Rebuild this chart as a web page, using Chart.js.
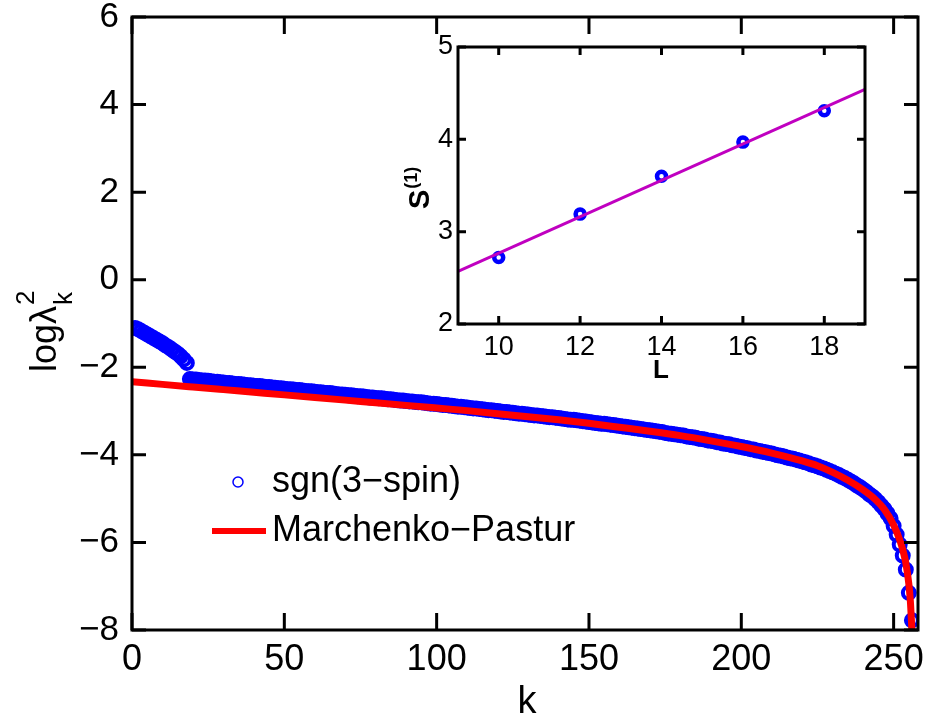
<!DOCTYPE html>
<html>
<head>
<meta charset="utf-8">
<script src="https://cdn.jsdelivr.net/npm/chart.js@4.4.0/dist/chart.umd.min.js"></script>
<style>
  html, body { margin: 0; padding: 0; background: #fff; }
  #wrap { position: relative; width: 930px; height: 721px; }
  #wrap canvas { position: absolute; left: 0; top: 0; width: 930px; height: 721px; }
</style>
</head>
<body>
<div id="wrap">
  <canvas id="main" width="930" height="721"></canvas>
  <canvas id="inset" width="930" height="721"></canvas>
</div>
<script>
// main panel: log of squared singular values, k = 1..256
var signSpectrum = [
  -1.10, -1.13, -1.17, -1.21, -1.25, -1.29, -1.33, -1.37, -1.41, -1.45,
  -1.50, -1.54, -1.59, -1.64, -1.69, -1.75, -1.82, -1.90,
  -2.27, -2.28, -2.28, -2.29, -2.30, -2.30, -2.31, -2.32, -2.33, -2.33, -2.34,
  -2.35, -2.36, -2.36, -2.37, -2.38, -2.38, -2.39, -2.40, -2.41, -2.41,
  -2.42, -2.43, -2.43, -2.44, -2.45, -2.45, -2.46, -2.47, -2.48, -2.48,
  -2.49, -2.50, -2.50, -2.51, -2.52, -2.52, -2.53, -2.54, -2.55, -2.55,
  -2.56, -2.57, -2.57, -2.58, -2.59, -2.59, -2.60, -2.61, -2.62, -2.62,
  -2.63, -2.64, -2.64, -2.65, -2.66, -2.66, -2.67, -2.68, -2.69, -2.69,
  -2.70, -2.71, -2.71, -2.72, -2.73, -2.73, -2.74, -2.75, -2.76, -2.76,
  -2.77, -2.78, -2.78, -2.79, -2.80, -2.80, -2.81, -2.82, -2.83, -2.83,
  -2.84, -2.85, -2.86, -2.86, -2.87, -2.88, -2.89, -2.90, -2.90, -2.91,
  -2.92, -2.93, -2.94, -2.94, -2.95, -2.96, -2.97, -2.98, -2.98, -2.99,
  -3.00, -3.01, -3.02, -3.02, -3.03, -3.04, -3.05, -3.06, -3.06, -3.07,
  -3.08, -3.09, -3.10, -3.10, -3.11, -3.12, -3.13, -3.14, -3.14, -3.15,
  -3.16, -3.17, -3.18, -3.19, -3.20, -3.20, -3.21, -3.22, -3.23, -3.24,
  -3.25, -3.26, -3.27, -3.28, -3.29, -3.29, -3.30, -3.31, -3.32, -3.33,
  -3.34, -3.35, -3.36, -3.37, -3.38, -3.39, -3.40, -3.41, -3.42, -3.43,
  -3.44, -3.45, -3.46, -3.47, -3.48, -3.50, -3.51, -3.52, -3.53, -3.54,
  -3.55, -3.56, -3.58, -3.59, -3.60, -3.61, -3.63, -3.64, -3.65, -3.67,
  -3.68, -3.69, -3.71, -3.72, -3.74, -3.75, -3.76, -3.78, -3.79, -3.81,
  -3.82, -3.84, -3.85, -3.87, -3.88, -3.90, -3.91, -3.93, -3.94, -3.96,
  -3.97, -3.99, -4.01, -4.02, -4.04, -4.06, -4.08, -4.09, -4.11, -4.13,
  -4.15, -4.17, -4.19, -4.22, -4.24, -4.26, -4.29, -4.31, -4.34, -4.37,
  -4.40, -4.43, -4.46, -4.50, -4.53, -4.57, -4.61, -4.65, -4.70, -4.74,
  -4.79, -4.84, -4.90, -4.95, -5.01, -5.08, -5.16, -5.24, -5.34, -5.45,
  -5.62, -5.82, -6.05, -6.30, -6.62, -7.15, -7.78
];
var mpK = [0, 10, 20, 30, 40, 50, 60, 70, 80, 90, 100, 110, 120, 130, 140, 150, 160, 170, 180, 190,
  200, 210, 220, 225, 230, 235, 240, 244, 247, 250, 252, 253, 254, 255, 255.5, 256];
var mpLog = [-2.33, -2.39, -2.45, -2.51, -2.57, -2.63, -2.69, -2.75, -2.81, -2.87, -2.93, -2.99, -3.06, -3.13,
  -3.20, -3.28, -3.37, -3.46, -3.56, -3.68, -3.81, -3.96, -4.14, -4.25, -4.40, -4.58, -4.80, -5.02, -5.25,
  -5.60, -5.94, -6.17, -6.47, -6.95, -7.35, -8.00];
var kTicks = [0, 50, 100, 150, 200, 250];
var logTicks = [-8, -6, -4, -2, 0, 2, 4, 6];

// inset: entropy vs system size
var sizeL = [10, 12, 14, 16, 18];
var entropyS = [2.72, 3.19, 3.60, 3.97, 4.31];
var fitL = [9, 19];
var fitS = [2.57, 4.54];
var lTicks = [10, 12, 14, 16, 18];
var sTicks = [2, 3, 4, 5];

var BLUE = '#0000ff';
var RED = '#ff0000';
var SANS = '"Liberation Sans", Arial, sans-serif';

function minus(v) {
  return v < 0 ? '\u2212' + Math.abs(v) : String(v);
}
function useTicks(list) {
  return function(scale) {
    scale.ticks = list.map(function(v) { return { value: v }; });
  };
}
function fixSize(w, h) {
  return function(scale) {
    if (w) scale.width = w;
    if (h) scale.height = h;
    scale.paddingTop = 0; scale.paddingBottom = 0;
    scale.paddingLeft = 0; scale.paddingRight = 0;
  };
}

// box round the axes with inward ticks on all four sides
function boxTicks(id, xLen, yLen, lw) {
  return {
    id: id,
    afterDatasetsDraw: function(chart) {
      var ctx = chart.ctx, a = chart.chartArea;
      var xs = chart.scales.x, ys = chart.scales.y;
      ctx.save();
      ctx.strokeStyle = '#000';
      ctx.lineWidth = lw;
      ctx.beginPath();
      xs.ticks.forEach(function(t) {
        var px = xs.getPixelForValue(t.value);
        ctx.moveTo(px, a.bottom); ctx.lineTo(px, a.bottom - xLen);
        ctx.moveTo(px, a.top); ctx.lineTo(px, a.top + xLen);
      });
      ys.ticks.forEach(function(t) {
        var py = ys.getPixelForValue(t.value);
        ctx.moveTo(a.left, py); ctx.lineTo(a.left + yLen, py);
        ctx.moveTo(a.right, py); ctx.lineTo(a.right - yLen, py);
      });
      ctx.stroke();
      ctx.strokeRect(a.left, a.top, a.right - a.left, a.bottom - a.top);
      ctx.restore();
    }
  };
}

var mainText = {
  id: 'mainText',
  afterDraw: function(chart) {
    var ctx = chart.ctx;
    ctx.save();
    ctx.fillStyle = '#000';
    // y title: log lambda_k^2
    ctx.translate(56, 372);
    ctx.rotate(-Math.PI / 2);
    ctx.textBaseline = 'alphabetic';
    ctx.font = '36px ' + SANS;
    var base = 'log\u03bb';
    ctx.fillText(base, 0, 0);
    var w = ctx.measureText(base).width;
    ctx.font = '26px ' + SANS;
    ctx.fillText('k', w + 1, 16);
    ctx.fillText('2', w + 1, -22);
    ctx.restore();

    ctx.save();
    ctx.fillStyle = '#000';
    ctx.font = '38px ' + SANS;
    ctx.textAlign = 'center';
    ctx.textBaseline = 'alphabetic';
    ctx.fillText('k', 527, 713);

    // legend
    ctx.textAlign = 'left';
    ctx.textBaseline = 'middle';
    ctx.font = '36px ' + SANS;
    ctx.strokeStyle = BLUE;
    ctx.lineWidth = 1.5;
    ctx.beginPath();
    ctx.arc(238, 482, 5, 0, Math.PI * 2);
    ctx.stroke();
    ctx.fillText('sgn(3\u2212spin)', 272, 482);
    ctx.strokeStyle = RED;
    ctx.lineWidth = 6;
    ctx.beginPath();
    ctx.moveTo(212, 531);
    ctx.lineTo(266, 531);
    ctx.stroke();
    ctx.fillText('Marchenko\u2212Pastur', 272, 531);
    ctx.restore();
  }
};

var insetText = {
  id: 'insetText',
  afterDraw: function(chart) {
    var ctx = chart.ctx;
    ctx.save();
    ctx.fillStyle = '#000';
    ctx.font = 'bold 26px ' + SANS;
    ctx.textAlign = 'center';
    ctx.textBaseline = 'alphabetic';
    ctx.fillText('L', 661, 378);
    ctx.translate(429, 209);
    ctx.rotate(-Math.PI / 2);
    ctx.textAlign = 'left';
    ctx.font = 'bold 29px ' + SANS;
    ctx.fillText('S', 0, 0);
    var w = ctx.measureText('S').width;
    ctx.font = 'bold 18px ' + SANS;
    ctx.fillText('(1)', w + 1, -12);
    ctx.restore();
  }
};

var mainData = signSpectrum.map(function(v, i) { return { x: i + 1, y: v }; });
var mpData = mpK.map(function(k, i) { return { x: k, y: mpLog[i] }; });

new Chart(document.getElementById('main').getContext('2d'), {
  type: 'scatter',
  data: {
    datasets: [
      {
        label: 'Marchenko\u2212Pastur',
        type: 'line',
        data: mpData,
        borderColor: RED,
        borderWidth: 7,
        pointRadius: 0,
        fill: false,
        cubicInterpolationMode: 'monotone'
      },
      {
        label: 'sgn(3\u2212spin)',
        data: mainData,
        pointStyle: 'circle',
        radius: 6,
        pointRadius: 6,
        borderWidth: 4,
        pointBorderWidth: 4,
        borderColor: BLUE,
        pointBorderColor: BLUE,
        backgroundColor: 'rgba(0,0,0,0)',
        pointBackgroundColor: 'rgba(0,0,0,0)'
      }
    ]
  },
  options: {
    responsive: false,
    animation: false,
    layout: { padding: { left: 0, top: 17, right: 12, bottom: 0 } },
    plugins: { legend: { display: false }, tooltip: { enabled: false } },
    scales: {
      x: {
        type: 'linear', min: 0, max: 258,
        grid: { display: false, drawTicks: false },
        border: { display: false },
        afterBuildTicks: useTicks(kTicks),
        afterFit: fixSize(0, 91),
        ticks: { padding: 8, color: '#000', font: { family: SANS, size: 36 }, callback: minus }
      },
      y: {
        type: 'linear', min: -8, max: 6,
        grid: { display: false, drawTicks: false },
        border: { display: false },
        afterBuildTicks: useTicks(logTicks),
        afterFit: fixSize(132, 0),
        ticks: { padding: 13, color: '#000', font: { family: SANS, size: 35 }, callback: minus }
      }
    }
  },
  plugins: [boxTicks('mainBox', 17, 14, 3), mainText]
});

new Chart(document.getElementById('inset').getContext('2d'), {
  type: 'scatter',
  data: {
    datasets: [
      {
        label: 'fit',
        type: 'line',
        data: fitL.map(function(l, i) { return { x: l, y: fitS[i] }; }),
        borderColor: '#c000c0',
        borderWidth: 3,
        pointRadius: 0,
        fill: false
      },
      {
        label: 'S',
        data: sizeL.map(function(l, i) { return { x: l, y: entropyS[i] }; }),
        pointRadius: 4.5,
        pointBorderWidth: 4.5,
        pointBorderColor: BLUE,
        pointBackgroundColor: 'rgba(0,0,0,0)'
      }
    ]
  },
  options: {
    responsive: false,
    animation: false,
    layout: { padding: { left: 400, top: 47, right: 65, bottom: 347 } },
    plugins: { legend: { display: false }, tooltip: { enabled: false } },
    scales: {
      x: {
        type: 'linear', min: 9, max: 19,
        grid: { display: false, drawTicks: false },
        border: { display: false },
        afterBuildTicks: useTicks(lTicks),
        afterFit: fixSize(0, 50),
        ticks: { padding: 7, color: '#000', font: { family: SANS, size: 27 } }
      },
      y: {
        type: 'linear', min: 2, max: 5,
        grid: { display: false, drawTicks: false },
        border: { display: false },
        afterBuildTicks: useTicks(sTicks),
        afterFit: fixSize(58, 0),
        ticks: { padding: 5, color: '#000', font: { family: SANS, size: 27 } }
      }
    }
  },
  plugins: [boxTicks('insetBox', 8, 8, 3), insetText]
});
</script>
</body>
</html>
